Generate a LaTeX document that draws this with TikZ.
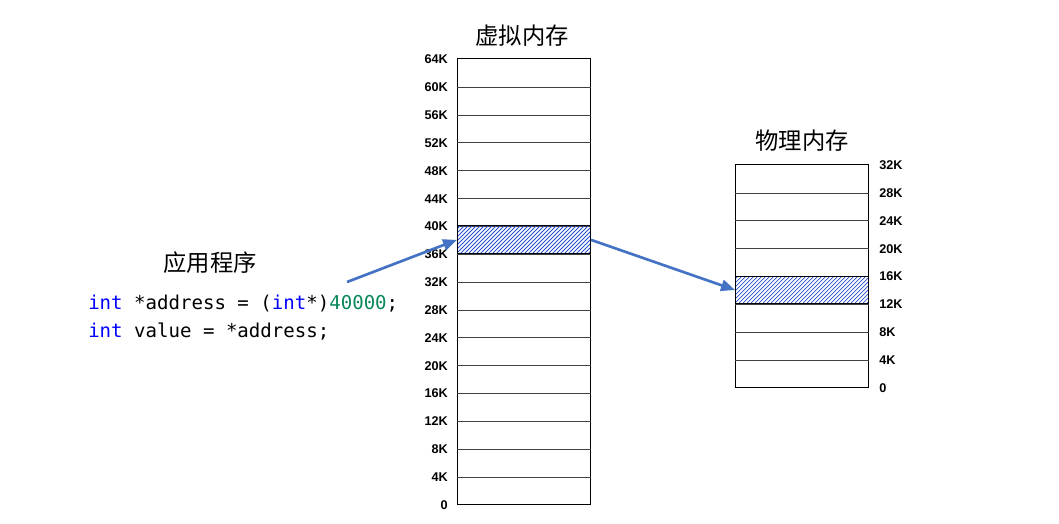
\documentclass[tikz,border=0pt]{standalone}
\usepackage{fontspec}
\setmainfont{Liberation Sans}
\setmonofont{DejaVu Sans Mono}
\newfontfamily\cjk{Noto Sans CJK SC}
\usetikzlibrary{arrows.meta,positioning}
\definecolor{arrowblue}{RGB}{68,114,196}
\definecolor{hatchblue}{RGB}{40,80,210}
\definecolor{kwblue}{RGB}{0,0,255}
\definecolor{numgreen}{RGB}{9,136,90}

\begin{document}
\begin{tikzpicture}[
x=0.75pt, y=-0.75pt,
title/.style={font=\cjk\fontsize{17.5}{20}\selectfont},
addr/.style={font=\bfseries\fontsize{9.5}{10}\selectfont, inner sep=0pt},
code/.style={font=\ttfamily\fontsize{14.3}{17}\selectfont, inner sep=0pt, anchor=base west},
mem/.style={draw, line width=0.8pt, minimum width=99.75pt, inner sep=0pt, anchor=south west},
grid/.style={line width=0.7pt, black!75},
blk/.style={draw, line width=0.8pt, minimum width=99.75pt, minimum height=20.89pt, inner sep=0pt, anchor=south west,
  path picture={
    \foreach \d in {0,3,...,120}
      \draw[hatchblue, line width=0.6pt] ([xshift=\d pt-22pt]path picture bounding box.south west) -- ++(24pt,24pt);
  }},
arrow/.style={-{Triangle[length=10.5pt,width=8.5pt]}, line width=2pt, arrowblue}
]
\useasboundingbox[fill=white] (0,0) rectangle (1059,524);

% virtual and physical memory
\node[mem, minimum height=334.2pt] (vmem) at (457,505) {};
\node[mem, minimum height=167.1pt] (pmem) at (735,388) {};

\foreach \i in {1,...,15}
  \draw[grid] ([yshift=\i*20.8875pt]vmem.south west) -- ([yshift=\i*20.8875pt]vmem.south east);
\foreach \i in {1,...,7}
  \draw[grid] ([yshift=\i*20.8875pt]pmem.south west) -- ([yshift=\i*20.8875pt]pmem.south east);

\node[blk] (vblk) at ([yshift=9*20.8875pt]vmem.south west) {};
\node[blk] (pblk) at ([yshift=3*20.8875pt]pmem.south west) {};

% address labels
\foreach \i in {0,...,16}{
  \pgfmathtruncatemacro\k{4*\i}
  \node[addr, anchor=east] (va\i) at ([xshift=-6.75pt, yshift=\i*20.8875pt]vmem.south west) {\ifnum\k=0 0\else\k K\fi};
}
\foreach \i in {0,...,8}{
  \pgfmathtruncatemacro\k{4*\i}
  \node[addr, anchor=west] (pa\i) at ([xshift=7.5pt, yshift=\i*20.8875pt]pmem.south east) {\ifnum\k=0 0\else\k K\fi};
}

% titles
\node[title] (vtitle) at (522,36) {虚拟内存};
\node[title] (ptitle) at (802,141) {物理内存};
\node[title] (apptitle) at (210,263) {应用程序};

% program code
\node[code] (code1) at (88,309) {\textcolor{kwblue}{int} *address = (\textcolor{kwblue}{int}*)\textcolor{numgreen}{40000};};
\node[code] (code2) at (88,337) {\textcolor{kwblue}{int} value = *address;};

\coordinate (src) at (347,282);
\draw[arrow] (src) -- (vblk.west);
\draw[arrow] (vblk.east) -- (pblk.west);
\end{tikzpicture}
\end{document}
